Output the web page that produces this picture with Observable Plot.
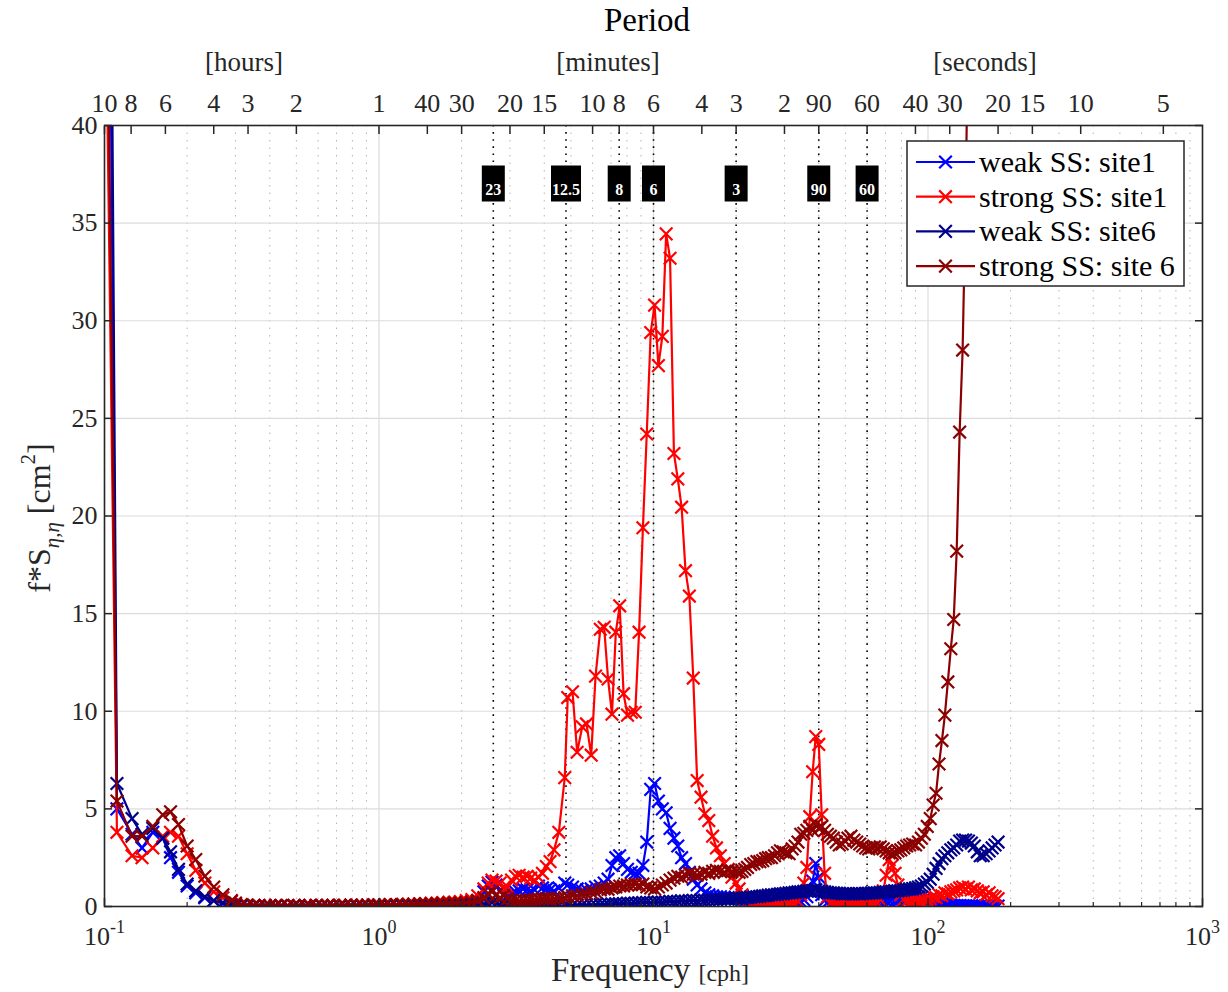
<!DOCTYPE html>
<html><head><meta charset="utf-8">
<script src="https://cdn.jsdelivr.net/npm/d3@7"></script>
<script src="https://cdn.jsdelivr.net/npm/@observablehq/plot@0.6"></script>
<style>
html,body{margin:0;padding:0;background:#fff;}
#chart{width:1228px;height:992px;}
</style></head><body><div id="chart"></div>
<script>
// ---------- frequency grid [cph], by segment ----------
const freqLow = [0.1,0.111,0.126,0.137,0.15,0.163,0.174,0.186,0.2,0.215,0.232,0.25,0.27,0.29];
const freqMid = [0.3,0.315,0.33,0.35,0.365,0.385,0.4,0.42,0.44,0.465,
  0.49,0.51,0.54,0.56,0.59,0.62,0.65,0.68,0.72,0.75,
  0.79,0.83,0.87,0.91,0.96,1.0,1.05,1.1,1.16,1.22,
  1.28,1.34,1.41,1.48,1.55,1.63,1.71,1.8,1.89,1.98,
  2.08,2.18,2.29,2.41];
const freqBand = [2.5,2.58,2.67,2.76,2.85,2.94,3.04,3.14,3.24,3.35,
  3.46,3.57,3.69,3.81,3.94,4.07,4.2,4.34,4.52,4.75,
  4.87,5.07,5.27,5.5,5.7,5.93,6.15,6.4,6.61,6.83,
  7.06,7.29,7.53,7.78,8.04,8.3,8.58,8.86,9.15,9.45,
  9.77,10.09,10.42,10.77,11.12,11.49,11.87,12.26,12.66,13.08,
  13.51,13.96,14.42,14.9,15.39,15.9,16.42,16.96,17.52,18.1,
  18.7,19.31];
const freqHigh = [20,20.5,21,21.5,22,22.6,23.2,23.8,24.4,25,
  25.6,26.2,26.9,27.6,28.3,29,29.7,30.4,31.2,32,
  32.8,33.6,34.4,35.3,36.2,37.1,38,39,40,41,
  42,43,44.1,45.2,46.3,47.5,48.7,49.9,51.1,52.4,
  53.7,55,56.4,57.8,59.3,60.8,62.3,63.8,65.4,67,
  68.7,70.4,72.2,74,75.8,77.7,79.6,81.6,83.6,85.7,
  87.9,90.1,92.3,94.6,97,99.4,101.9,104.4,107,109.7,
  112.4,115.2,118.1,121.1,124.1,127.2,130.4,133.7,137,140.4,
  143.9,147.5,151.2,155,158.9,162.9,167,171.2,175.5,180];

// ---------- weak SS: site1 ----------
const weakSite1Low = [80,5.0,3.7,3.0,3.8,3.5,2.5,1.75,1.05,0.7,0.45,0.3,0.14,0.05];
const weakSite1Mid = [0.03,0.02,0.02,0.03,0.02,0.02,0.03,0.02,0.02,0.02,
  0.03,0.02,0.02,0.02,0.03,0.02,0.02,0.03,0.02,0.02,
  0.02,0.03,0.02,0.02,0.03,0.02,0.03,0.03,0.04,0.03,
  0.04,0.04,0.05,0.05,0.06,0.06,0.07,0.08,0.09,0.1,
  0.12,0.18,0.3,0.75];
const weakSite1Band = [1.05,1.25,1.1,0.8,0.6,0.55,0.65,0.75,0.8,0.9,
  0.85,0.8,0.85,1.05,0.95,0.9,0.85,0.8,0.95,1.2,
  1.1,1.0,0.9,0.8,0.85,0.9,1.0,1.05,1.2,1.4,
  2.1,2.5,2.6,2.2,1.9,1.75,1.7,1.7,2.1,3.3,
  6.0,6.3,5.4,5.0,4.8,4.0,3.5,3.1,2.5,2.2,
  1.75,1.4,1.1,0.9,0.7,0.6,0.55,0.5,0.5,0.48,
  0.45,0.42];
const weakSite1High = [0.42,0.38,0.35,0.3,0.28,0.25,0.2,0.18,0.15,0.12,
  0.1,0.12,0.1,0.08,0.1,0.12,0.1,0.08,0.1,0.12,
  0.15,0.18,0.25,0.35,0.5,0.8,1.3,2.2,1.5,0.6,
  0.3,0.2,0.15,0.12,0.1,0.12,0.1,0.12,0.15,0.12,
  0.1,0.12,0.15,0.18,0.15,0.2,0.18,0.22,0.2,0.25,
  0.22,0.28,0.3,0.35,0.3,0.38,0.4,0.45,0.42,0.5,
  0.48,0.55,0.5,0.45,0.4,0.35,0.3,0.25,0.2,0.18,
  0.15,0.12,0.1,0.08,0.06,0.05,0.05,0.04,0.04,0.03,
  0.03,0.03,0.02,0.02,0.02,0.02,0.02,0.02,0.02,0.02];

// ---------- strong SS: site1 ----------
const strongSite1Low = [52,3.8,2.6,2.5,3.0,3.6,3.8,3.6,2.7,1.85,1.2,0.75,0.45,0.25];
const strongSite1Mid = [0.14,0.08,0.06,0.05,0.05,0.05,0.04,0.05,0.05,0.04,
  0.05,0.05,0.04,0.05,0.06,0.05,0.05,0.06,0.06,0.05,
  0.06,0.07,0.06,0.07,0.08,0.08,0.09,0.1,0.1,0.11,
  0.12,0.12,0.14,0.15,0.17,0.18,0.2,0.22,0.22,0.25,
  0.3,0.35,0.55,0.9];
const strongSite1Band = [1.2,1.35,1.3,1.2,0.95,1.0,1.35,1.55,1.6,1.5,
  1.55,1.45,1.35,1.5,1.7,2.05,2.3,2.9,3.8,6.6,
  10.7,11.0,7.9,9.2,9.35,7.75,11.8,14.2,14.3,11.65,
  9.85,14.05,15.4,10.9,9.8,9.95,9.95,14.05,19.4,24.2,
  29.4,30.8,27.7,29.2,34.45,33.2,23.2,21.9,20.45,17.2,
  15.9,11.7,6.45,5.6,4.75,4.4,3.6,3.0,2.6,2.2,
  1.9,1.5];
const strongSite1High = [1.2,0.9,0.6,0.4,0.25,0.15,0.1,0.08,0.06,0.05,
  0.05,0.06,0.05,0.05,0.06,0.05,0.06,0.07,0.08,0.1,
  0.15,0.25,0.6,1.2,2.0,4.6,6.9,8.7,8.3,4.7,
  1.7,0.5,0.15,0.08,0.06,0.05,0.05,0.06,0.05,0.05,
  0.06,0.05,0.06,0.07,0.06,0.08,0.1,0.12,0.18,0.35,
  0.8,1.6,2.4,2.1,1.7,1.1,0.6,0.35,0.25,0.2,
  0.18,0.2,0.22,0.25,0.3,0.35,0.4,0.5,0.45,0.6,
  0.55,0.7,0.65,0.75,0.8,0.85,0.95,1.0,0.9,1.0,
  0.85,0.9,0.8,0.7,0.75,0.6,0.7,0.55,0.5,0.4];

// ---------- weak SS: site6 ----------
const weakSite6Low = [100,6.3,4.5,3.7,4.0,3.5,2.8,1.9,1.15,0.8,0.5,0.3,0.2,0.08];
const weakSite6Mid = [0.04,0.03,0.02,0.02,0.02,0.03,0.02,0.02,0.02,0.02,
  0.02,0.03,0.02,0.02,0.02,0.02,0.03,0.02,0.02,0.02,
  0.03,0.02,0.02,0.03,0.02,0.02,0.03,0.03,0.03,0.03,
  0.04,0.03,0.04,0.04,0.05,0.05,0.05,0.06,0.06,0.07,
  0.08,0.09,0.1,0.12];
const weakSite6Band = [0.15,0.2,0.15,0.1,0.08,0.06,0.05,0.05,0.04,0.04,
  0.04,0.05,0.04,0.05,0.04,0.05,0.06,0.05,0.05,0.06,
  0.07,0.06,0.07,0.08,0.07,0.08,0.09,0.1,0.1,0.12,
  0.12,0.14,0.13,0.15,0.17,0.16,0.18,0.19,0.2,0.21,
  0.2,0.22,0.23,0.22,0.24,0.26,0.25,0.27,0.29,0.28,
  0.3,0.31,0.3,0.33,0.32,0.34,0.35,0.35,0.37,0.38,
  0.38,0.4];
const weakSite6High = [0.4,0.42,0.4,0.45,0.45,0.48,0.5,0.5,0.52,0.55,
  0.55,0.58,0.6,0.6,0.62,0.65,0.65,0.68,0.7,0.7,
  0.72,0.75,0.75,0.78,0.8,0.8,0.82,0.85,0.8,0.78,
  0.75,0.72,0.7,0.7,0.68,0.68,0.65,0.65,0.66,0.65,
  0.65,0.66,0.65,0.66,0.68,0.68,0.7,0.7,0.7,0.72,
  0.72,0.75,0.75,0.78,0.8,0.8,0.82,0.85,0.88,0.9,
  0.92,0.95,1.0,1.05,1.15,1.25,1.4,1.65,1.95,2.2,
  2.45,2.6,2.75,2.9,3.0,3.15,3.35,3.4,3.4,3.35,
  3.25,3.1,2.8,2.6,2.6,2.7,2.85,3.0,3.15,3.3];

// ---------- strong SS: site 6 ----------
const strongSite6Low = [60,5.4,3.6,3.6,4.1,4.7,4.85,4.2,3.1,2.4,1.55,1.0,0.6,0.3];
const strongSite6Mid = [0.18,0.1,0.07,0.06,0.05,0.05,0.05,0.06,0.05,0.05,
  0.06,0.05,0.05,0.06,0.05,0.06,0.06,0.05,0.06,0.06,
  0.07,0.06,0.07,0.07,0.08,0.08,0.08,0.09,0.09,0.1,
  0.1,0.11,0.12,0.12,0.13,0.14,0.15,0.15,0.17,0.18,
  0.2,0.22,0.3,0.45];
const strongSite6Band = [0.65,0.75,0.6,0.45,0.55,0.4,0.3,0.3,0.28,0.3,
  0.32,0.34,0.35,0.38,0.4,0.4,0.38,0.4,0.42,0.45,
  0.5,0.55,0.55,0.6,0.65,0.72,0.75,0.85,0.9,0.88,
  0.95,1.0,1.05,1.05,1.1,1.12,1.15,1.1,1.15,1.0,
  0.95,0.9,1.0,1.1,1.2,1.35,1.45,1.55,1.5,1.6,
  1.7,1.65,1.6,1.65,1.75,1.7,1.8,1.85,1.8,1.75,
  1.85,1.8];
const strongSite6High = [1.8,1.75,1.8,1.9,2.0,2.15,2.2,2.3,2.3,2.35,
  2.45,2.5,2.5,2.6,2.75,2.85,2.8,2.75,2.7,2.95,
  3.1,3.3,3.7,3.75,3.9,4.1,3.9,4.2,4.0,4.1,
  3.9,3.7,3.6,3.5,3.3,3.15,3.2,3.35,3.5,3.6,
  3.4,3.3,3.2,3.1,3.0,2.95,3.0,3.05,3.0,3.05,
  2.95,2.85,2.75,2.7,2.75,2.85,2.9,3.0,3.1,3.15,
  3.2,3.15,3.3,3.5,3.7,4.1,4.5,5.2,5.8,7.3,
  8.5,9.8,11.5,13.2,14.7,18.2,24.3,28.5,36,46,
  58,70,85,98,110,120,128,135,140,145];

const seriesNames = ["weak SS: site1","strong SS: site1","weak SS: site6","strong SS: site 6"];
const seriesColors = ["#0000ff","#ff0000","#00008b","#8b0000"];

// period axis (top)
const periodHours = [10,8,6,4,3,2,1];
const periodMinutes = [40,30,20,15,10,8,6,4,3,2];
const periodSeconds = [90,60,40,30,20,15,10,5];
const unitLabels = ["[hours]","[minutes]","[seconds]"];

// highlighted periods (vertical dotted lines with boxes)
const markerLabels = ["23","12.5","8","6","3","90","60"];
const markerPeriodSec = [23*60,12.5*60,8*60,6*60,3*60,90,60];

const yTicks = [0,5,10,15,20,25,30,35,40];
const decades = [0.1,1,10,100,1000];

try {
  const freq = [...freqLow, ...freqMid, ...freqBand, ...freqHigh];
  const values = [
    [...weakSite1Low, ...weakSite1Mid, ...weakSite1Band, ...weakSite1High],
    [...strongSite1Low, ...strongSite1Mid, ...strongSite1Band, ...strongSite1High],
    [...weakSite6Low, ...weakSite6Mid, ...weakSite6Band, ...weakSite6High],
    [...strongSite6Low, ...strongSite6Mid, ...strongSite6Band, ...strongSite6High]
  ];
  values.forEach((v, k) => { if (v.length !== freq.length) throw new Error(seriesNames[k] + " length " + v.length + " vs " + freq.length); });

  const series = seriesNames.map((name, k) => ({
    name, color: seriesColors[k],
    rows: freq.map((f, i) => ({f, v: values[k][i]}))
  }));

  const minorTicks = [];
  for (const d of [0.1, 1, 10, 100]) for (let m = 2; m <= 9; m++) minorTicks.push(d * m);

  const periodRows = [
    ...periodHours.map(h => ({f: 1 / h, label: String(h)})),
    ...periodMinutes.map(m => ({f: 60 / m, label: String(m)})),
    ...periodSeconds.map(s => ({f: 3600 / s, label: String(s)}))
  ];

  const boxes = markerLabels.map((label, i) => ({label, f: 3600 / markerPeriodSec[i]}));
  const rectSymbol = w => ({draw(ctx) { ctx.rect(-w / 2, -18, w, 36); }});

  const axisColor = "#262626";
  const dataMarks = series.flatMap(s => [
    Plot.line(s.rows, {x: "f", y: "v", stroke: s.color, strokeWidth: 2.2, clip: true}),
    Plot.dot(s.rows, {x: "f", y: "v", symbol: "times", r: 5.8, stroke: s.color, strokeWidth: 2.2, clip: true})
  ]);

  const plot = Plot.plot({
    width: 1228, height: 992,
    marginLeft: 104, marginRight: 26, marginTop: 125, marginBottom: 86,
    style: {fontFamily: "'Liberation Serif', 'Times New Roman', serif", fontSize: "26px", color: axisColor, background: "#fff"},
    x: {type: "log", domain: [0.1, 1000]},
    y: {domain: [0, 40]},
    marks: [
      Plot.gridX({ticks: minorTicks, stroke: "#b4b4b4", strokeOpacity: 1, strokeWidth: 1, strokeDasharray: "1.5,6"}),
      Plot.gridX({ticks: decades, stroke: "#dcdcdc", strokeOpacity: 1, strokeWidth: 1.2}),
      Plot.gridY({ticks: yTicks, stroke: "#dcdcdc", strokeOpacity: 1, strokeWidth: 1.2}),
      Plot.ruleX(boxes, {x: "f", stroke: "black", strokeWidth: 1.6, strokeDasharray: "1.6,5.5"}),
      ...dataMarks,
      Plot.dotX(boxes.filter(d => d.label.length <= 2), {x: "f", frameAnchor: "top", dy: 58, symbol: rectSymbol(23), fill: "black"}),
      Plot.dotX(boxes.filter(d => d.label.length > 2), {x: "f", frameAnchor: "top", dy: 58, symbol: rectSymbol(30), fill: "black"}),
      Plot.textX(boxes, {x: "f", text: "label", frameAnchor: "top", dy: 58, fill: "white", fontWeight: "bold", fontSize: 16}),
      // left axis labels + inward ticks
      Plot.axisY({ticks: yTicks, tickSize: 0, tickPadding: 7, label: null}),
      Plot.axisY({ticks: yTicks, tickSize: 8, dx: 8, tickFormat: () => "", label: null, stroke: axisColor, strokeWidth: 1.5}),
      Plot.axisY({anchor: "right", ticks: yTicks, tickSize: 8, dx: -8, tickFormat: () => "", label: null, stroke: axisColor, strokeWidth: 1.5}),
      // bottom axis
      Plot.axisX({ticks: decades, tickSize: 0, tickPadding: 20, tickFormat: d => "10^" + Math.round(Math.log10(d)), label: null}),
      Plot.axisX({ticks: decades, tickSize: 8, dy: -8, tickFormat: () => "", label: null, stroke: axisColor, strokeWidth: 1.5}),
      Plot.axisX({ticks: minorTicks, tickSize: 4, dy: -4, tickFormat: () => "", label: null, stroke: axisColor, strokeWidth: 1.2}),
      // top (period) axis: inward ticks + labels
      Plot.axisX({anchor: "top", ticks: periodRows.map(d => d.f), tickSize: 8, dy: 8, tickFormat: () => "", label: null, stroke: axisColor, strokeWidth: 1.5}),
      Plot.textX(periodRows, {x: "f", text: "label", frameAnchor: "top", lineAnchor: "bottom", dy: -14, fill: axisColor, fontSize: 26}),
      Plot.frame({stroke: axisColor, strokeWidth: 1.6})
    ]
  });

  const svg = d3.select(plot);
  // superscript decade labels
  svg.selectAll("text").each(function () {
    const m = /^10\^(-?\d+)$/.exec(this.textContent);
    if (!m) return;
    const el = d3.select(this);
    el.text("");
    el.append("tspan").text("10");
    el.append("tspan").attr("dy", -12).attr("font-size", 18).text(m[1]);
  });

  const font = "'Liberation Serif', 'Times New Roman', serif";
  // title & units
  svg.append("text").attr("x", 647).attr("y", 31).attr("text-anchor", "middle")
    .attr("font-family", font).attr("font-size", 33).attr("fill", "#000").text("Period");
  const unitX = [244, 608, 985];
  unitLabels.forEach((t, i) => {
    svg.append("text").attr("x", unitX[i]).attr("y", 71).attr("text-anchor", "middle")
      .attr("font-family", font).attr("font-size", 27).attr("fill", axisColor).text(t);
  });

  // x label
  const xl = svg.append("text").attr("x", 650).attr("y", 981).attr("text-anchor", "middle")
    .attr("font-family", font).attr("fill", axisColor);
  xl.append("tspan").attr("font-size", 33).text("Frequency ");
  xl.append("tspan").attr("font-size", 24).text("[cph]");

  // y label
  const yl = svg.append("text").attr("transform", "translate(50,518) rotate(-90)").attr("text-anchor", "middle")
    .attr("font-family", font).attr("font-size", 32).attr("fill", axisColor);
  yl.append("tspan").text("f*S");
  yl.append("tspan").attr("dy", 9).attr("font-size", 21).attr("font-style", "italic").text("η,η");
  yl.append("tspan").attr("dy", -9).text(" [cm");
  yl.append("tspan").attr("dy", -15).attr("font-size", 21).text("2");
  yl.append("tspan").attr("dy", 15).text("]");

  // legend
  const lg = svg.append("g");
  lg.append("rect").attr("x", 907).attr("y", 141).attr("width", 277).attr("height", 145)
    .attr("fill", "#fff").attr("stroke", axisColor).attr("stroke-width", 1.5);
  const sym = d3.symbol(d3.symbolTimes, Math.PI * 5.8 * 5.8)();
  series.forEach((s, i) => {
    const cy = 162 + i * 34.7;
    lg.append("line").attr("x1", 916).attr("x2", 975).attr("y1", cy).attr("y2", cy)
      .attr("stroke", s.color).attr("stroke-width", 2.2);
    lg.append("path").attr("d", sym).attr("transform", `translate(945.5,${cy})`)
      .attr("fill", "none").attr("stroke", s.color).attr("stroke-width", 2.2);
    lg.append("text").attr("x", 979).attr("y", cy).attr("dy", "0.33em").attr("text-anchor", "start")
      .attr("font-family", font).attr("font-size", 30).attr("fill", "#000").text(s.name);
  });

  document.getElementById("chart").appendChild(plot);
} catch (e) {
  document.getElementById("chart").textContent = "ERROR: " + e.message;
}
</script>
</body></html>
